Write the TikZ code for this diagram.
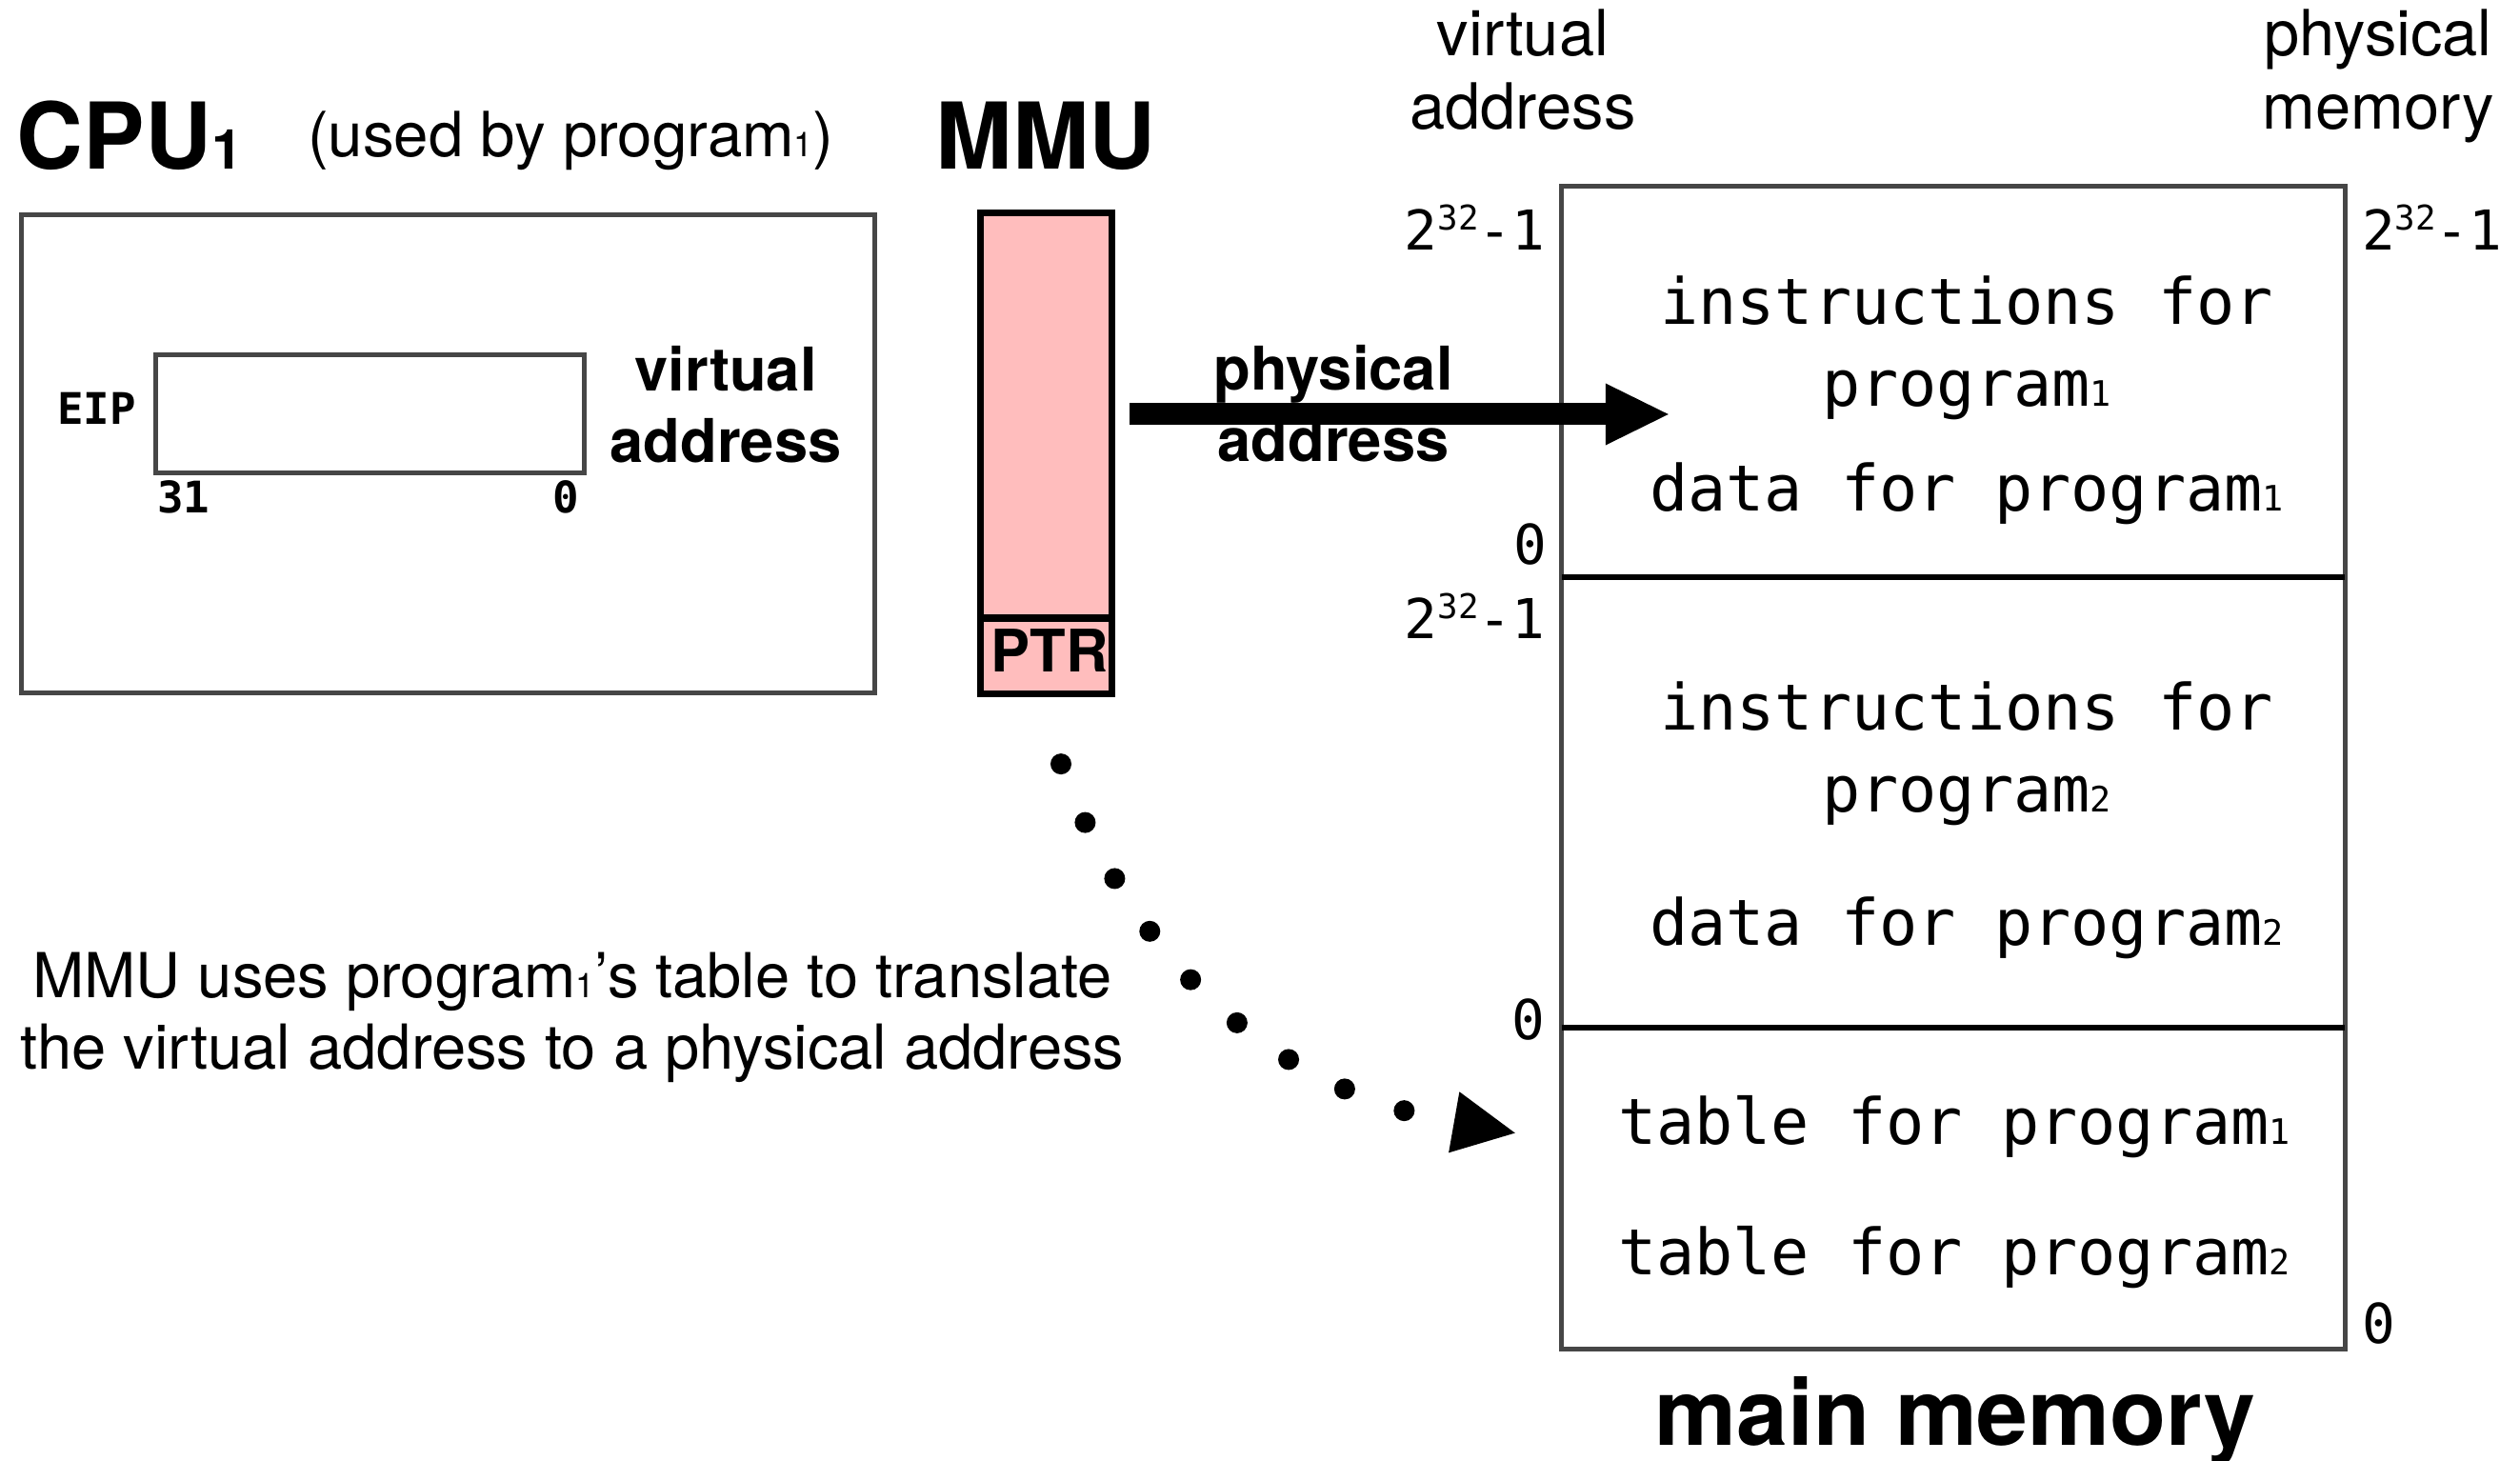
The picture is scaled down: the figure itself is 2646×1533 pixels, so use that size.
\documentclass[tikz,border=0pt]{standalone}
\usepackage{fontspec}
\setmainfont{TeX Gyre Heros}
\setmonofont{DejaVu Sans Mono}
\usetikzlibrary{arrows.meta}

\definecolor{boxgray}{HTML}{464646}
\definecolor{mmupink}{HTML}{FFBDBD}

\newcommand{\pidx}[1]{\scalebox{0.55}{#1}}
\newcommand{\supn}[1]{\raisebox{0.37em}{\scalebox{0.62}{#1}}}
\newcommand{\fsz}[2]{\fontsize{#1}{#2}\selectfont}

\begin{document}
\begin{tikzpicture}[x=0.01cm, y=0.01cm,
  every node/.style={inner sep=0pt, outer sep=0pt},
  box/.style={draw=boxgray, line width=1.4pt},
  title/.style={font=\bfseries\fsz{27.5}{30}},
  mono/.style={font=\ttfamily\fsz{19}{24.5}},
  addr/.style={font=\ttfamily\fsz{16.4}{18}}]
\useasboundingbox (0,0) rectangle (2646,1533);

\node[title, anchor=base west] (cputitle) at (18,1355) {CPU\scalebox{0.6}{1}};
\node[anchor=base west, font=\fsz{18.6}{22}] (used) at (323,1368) {(used by program\pidx{1})};
\node[box, minimum width=8.96cm, minimum height=5.02cm] (cpu) at (470.5,1056.5) {};
\node[box, minimum width=4.5cm, minimum height=1.24cm] (eip) at (388.5,1098.5) {};
\node[anchor=base east, font=\ttfamily\bfseries\fsz{13}{15}] (eiplbl) at (143,1087) {EIP};
\node[anchor=base west, font=\ttfamily\bfseries\fsz{13}{15}] (bit31) at (165,994) {31};
\node[anchor=base east, font=\ttfamily\bfseries\fsz{13}{15}] (bit0) at (608,994) {0};
\node[anchor=base, align=center, font=\bfseries\fsz{18}{21.6}] (vaddr) at (762,1047) {virtual\\address};

\node[title, anchor=base] (mmutitle) at (1098,1355) {MMU};
\node[draw, line width=2pt, fill=mmupink, minimum width=1.38cm, minimum height=5.05cm] (mmu) at (1098.5,1057) {};
\draw[line width=2pt] (mmu.west |- 0,884) -- (mmu.east |- 0,884);
\node[anchor=base, font=\bfseries\fsz{17.5}{20}] (ptr) at (1102,827) {PTR};
\node[anchor=base, align=center, font=\bfseries\fsz{18}{21.6}] (paddr) at (1400,1048) {physical\\address};

\node[anchor=base, align=center, font=\fsz{19}{22}] (vtop) at (1599,1397) {virtual\\address};
\node[anchor=base, align=center, font=\fsz{19}{22}] (ptop) at (2497,1397) {physical\\memory};

\node[box, minimum width=8.22cm, minimum height=12.2cm] (mem) at (2051,727) {};
\draw[line width=1.7pt] (mem.west |- 0,927) -- (mem.east |- 0,927);
\draw[line width=1.7pt] (mem.west |- 0,454) -- (mem.east |- 0,454);

\node[mono, anchor=base, align=center] (ins1) at (2065,1106) {instructions for\\program\pidx{1}};
\node[mono, anchor=base] (dat1) at (2065,996) {data for program\pidx{1}};
\node[mono, anchor=base, align=center] (ins2) at (2065,680) {instructions for\\program\pidx{2}};
\node[mono, anchor=base] (dat2) at (2065,540) {data for program\pidx{2}};
\node[mono, anchor=base] (tab1) at (2052,332) {table for program\pidx{1}};
\node[mono, anchor=base] (tab2) at (2052,195) {table for program\pidx{2}};

\node[addr, anchor=base east] (hi1) at (1622,1270) {2\supn{32}-1};
\node[addr, anchor=base east] (lo1) at (1624,940) {0};
\node[addr, anchor=base east] (hi2) at (1622,862) {2\supn{32}-1};
\node[addr, anchor=base east] (lo2) at (1622,442) {0};
\node[addr, anchor=base west] (phi) at (2480,1270) {2\supn{32}-1};
\node[addr, anchor=base west] (plo) at (2480,123) {0};

\node[title, anchor=base] (memtitle) at (2053,16) {main memory};

\node[anchor=base, align=center, font=\fsz{18.5}{21.6}] (note) at (601,410)
  {MMU uses program\pidx{1}’s table to translate\\the virtual address to a physical address};

\draw[line width=0.23cm, -{Triangle[length=0.66cm, width=0.65cm, line width=0pt]}]
  ([shift={(18.5,41)}]mmu.east) -- ([shift={(112,41)}]mem.west |- mmu.east);
\draw[line width=0.22cm, line cap=round, dash pattern=on 0pt off 0.665cm,
  -{Triangle[length=0.65cm, width=0.65cm, line width=0pt]}]
  ([shift={(15.5,-73.5)}]mmu.south) to[out=-70, in=170] ([shift={(-49,-7)}]mem.west |- tab1.center);
\end{tikzpicture}
\end{document}
